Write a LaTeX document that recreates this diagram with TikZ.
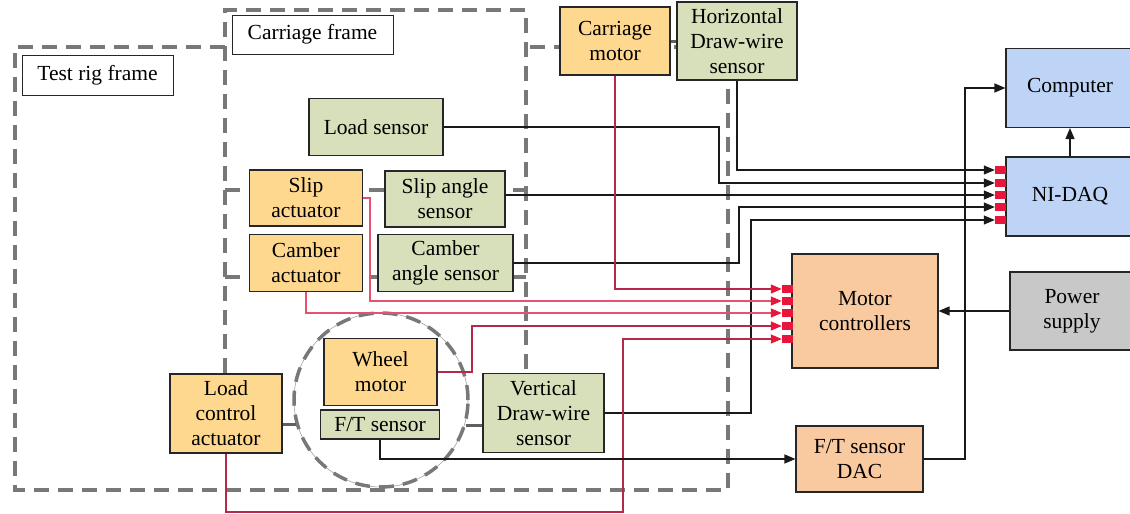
\documentclass[tikz,border=0pt]{standalone}
\usepackage{fontspec}
\setmainfont{Liberation Serif}
\usetikzlibrary{arrows.meta}
\definecolor{obox}{RGB}{254,216,142}
\definecolor{gbox}{RGB}{215,224,186}
\definecolor{bbox}{RGB}{190,212,246}
\definecolor{pbox}{RGB}{249,202,160}
\definecolor{graybox}{RGB}{200,200,200}
\definecolor{framegray}{RGB}{120,120,120}
\definecolor{wire}{RGB}{180,40,75}
\definecolor{wirelt}{RGB}{232,80,110}
\definecolor{portred}{RGB}{232,22,58}
\tikzset{
  box/.style={draw=black!85, line width=1.1pt, align=center, inner sep=0pt, font=\fontsize{21.5}{25}\selectfont},
  lbl/.style={box, fill=white, line width=1pt},
  frame/.style={draw=framegray, line width=3.5pt, dash pattern=on 15pt off 9pt},
  sig/.style={draw=black!90, line width=1.2pt},
  rsig/.style={draw=wire, line width=1.3pt},
  rsiglt/.style={draw=wirelt, line width=1.3pt},
  port/.style={fill=portred, minimum width=11pt, minimum height=8pt, inner sep=0pt},
  blk/.style={-{Triangle[length=11pt,width=9pt]}},
  rtip/.style={-{Triangle[length=11pt,width=9pt,color=portred]}},
  link/.style={draw=framegray!80!black, line width=3pt}
}
\begin{document}
\begin{tikzpicture}[x=1pt,y=-1pt]
\useasboundingbox (0,0) rectangle (1130,514);
% frames
\draw[frame] (225,47) -- (15,47) -- (15,490) -- (728,490) -- (728,47) -- (526,47);
\draw[frame] (225,373) -- (225,10) -- (526,10) -- (526,373);
\draw[frame] (225,190) -- (526,190);
\draw[frame] (225,277) -- (526,277);
\draw[framegray!70, line width=0.6pt] (381,400) circle[radius=87];
\node[draw=framegray, line width=3.5pt, dash pattern=on 15pt off 9pt, circle, minimum size=174pt, inner sep=0pt] (wheel) at (381,400) {};
% labels
\node[lbl, minimum width=151pt, minimum height=40pt] (trf) at (97.5,75) {Test rig frame};
\node[lbl, minimum width=161pt, minimum height=39pt] (cf) at (312.5,34.5) {Carriage frame};
% boxes
\node[box, fill=obox, minimum width=110pt, minimum height=68pt] (cm) at (615,41) {Carriage\\motor};
\node[box, fill=gbox, minimum width=120pt, minimum height=78pt] (hdw) at (737,41) {Horizontal\\Draw-wire\\sensor};
\node[box, fill=gbox, minimum width=134pt, minimum height=57pt] (ls) at (376,127) {Load sensor};
\node[box, fill=obox, minimum width=113pt, minimum height=56pt] (sa) at (306,198) {Slip\\actuator};
\node[box, fill=gbox, minimum width=120pt, minimum height=56pt] (sas) at (445,199) {Slip angle\\sensor};
\node[box, fill=obox, minimum width=113pt, minimum height=57pt] (ca) at (306,263) {Camber\\actuator};
\node[box, fill=gbox, minimum width=135pt, minimum height=57pt] (cas) at (445.5,263) {Camber\\angle sensor};
\node[box, fill=obox, minimum width=113pt, minimum height=67pt] (wm) at (380.5,372) {Wheel\\motor};
\node[box, fill=gbox, minimum width=119pt, minimum height=29pt] (ft) at (380,424.5) {F/T sensor};
\node[box, fill=obox, minimum width=112pt, minimum height=79pt] (lca) at (226,413.5) {Load\\control\\actuator};
\node[box, fill=gbox, minimum width=121pt, minimum height=79pt] (vdw) at (543.5,413) {Vertical\\Draw-wire\\sensor};
\node[box, fill=bbox, minimum width=128pt, minimum height=79pt] (comp) at (1070,88) {Computer};
\node[box, fill=bbox, minimum width=128pt, minimum height=79pt] (daq) at (1070,196.5) {NI-DAQ};
\node[box, fill=pbox, minimum width=146pt, minimum height=114pt] (mc) at (865,311) {Motor\\controllers};
\node[box, fill=graybox, minimum width=124pt, minimum height=78pt] (ps) at (1072,311) {Power\\supply};
\node[box, fill=pbox, minimum width=127pt, minimum height=66pt] (dac) at (859.5,459) {F/T sensor\\DAC};
% mechanical links
\draw[link] (cm.east) -- (hdw.west);
\draw[link] (lca.east |- wheel.196.7) -- (wheel.196.7);
\draw[link] (wheel.343.3) -- (vdw.west |- wheel.343.3);
% ports
\node[port] (d1) at (1000.5,170) {};
\node[port] (d2) at (1000.5,183) {};
\node[port] (d3) at (1000.5,195) {};
\node[port] (d4) at (1000.5,207) {};
\node[port] (d5) at (1000.5,220) {};
\node[port] (m1) at (787.5,289) {};
\node[port] (m2) at (787.5,301) {};
\node[port] (m3) at (787.5,313) {};
\node[port] (m4) at (787.5,326) {};
\node[port] (m5) at (787.5,339) {};
% sensor signals to NI-DAQ
\draw[sig,blk] (hdw.south) |- (d1.west);
\draw[sig,blk] (ls.east) -- (719,127) |- (d2.west);
\draw[sig,blk] (sas.east |- d3) -- (d3.west);
\draw[sig,blk] (cas.east) -- (739,263) |- (d4.west);
\draw[sig,blk] (vdw.east) -- (751,413) |- (d5.west);
% actuator signals to motor controllers
\draw[rsig,rtip] (cm.south) |- (m1.west);
\draw[rsiglt,rtip] (sa.east) -- (370,198) |- (m2.west);
\draw[rsiglt,rtip] (ca.south) |- (m3.west);
\draw[rsig,rtip] (wm.east) -- (472,372) |- (m4.west);
\draw[rsig,rtip] (lca.south) -- (226,512) -- (623,512) |- (m5.west);
% others
\draw[sig,blk] (ft.south) |- (dac.west);
\draw[sig,blk] (dac.east) -- (965,459) |- (comp.west);
\draw[sig,blk] (daq.north) -- (comp.south);
\draw[sig,blk] (ps.west) -- (mc.east);
\end{tikzpicture}
\end{document}
